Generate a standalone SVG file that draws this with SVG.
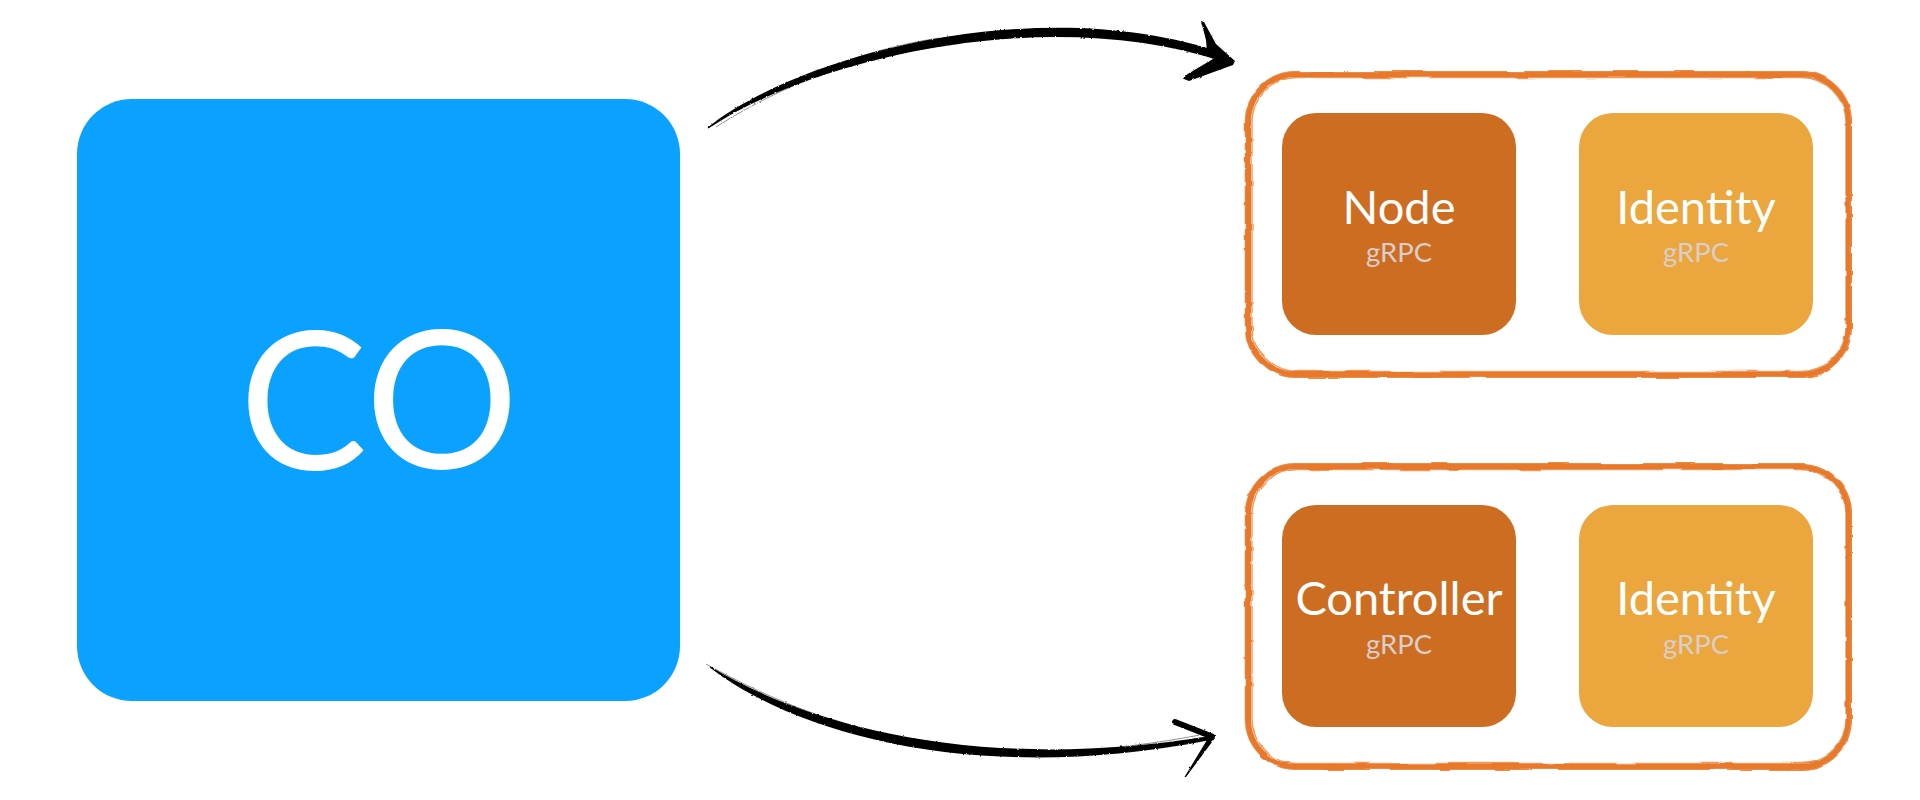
<svg xmlns="http://www.w3.org/2000/svg" width="1920" height="800" viewBox="0 0 1920 800">
  <style>
    .txt { font-family: Lato, "Open Sans", "DejaVu Sans", sans-serif; text-anchor: middle; }
    .big { fill: #ffffff; font-size: 192px; }
    .title { fill: #ffffff; font-size: 47px; }
    .sub { fill: #D8CFCA; font-size: 27.5px; }
    .dark { fill: #CD6D21; }
    .light { fill: #EBA63E; }
    .frame-main { fill: none; stroke: #E8782A; stroke-width: 6; }
    .frame-thin { fill: none; stroke: #E8782A; stroke-width: 1.4; opacity: 0.75; }
    .frame-hair { fill: none; stroke: #EE9A5C; stroke-width: 1; opacity: 0.6; }
    .ink { fill: #000000; }
    .hair { fill: none; stroke: #000000; stroke-width: 0.8; opacity: 0.55; }
  </style>
  <defs>
    <filter id="rough" x="-3%" y="-6%" width="106%" height="112%">
      <feTurbulence type="fractalNoise" baseFrequency="0.02 0.09" numOctaves="2" seed="4" result="n"/>
      <feDisplacementMap in="SourceGraphic" in2="n" scale="3.5" xChannelSelector="R" yChannelSelector="G"/>
    </filter>
    <filter id="brush" x="-5%" y="-20%" width="110%" height="140%">
      <feTurbulence type="fractalNoise" baseFrequency="0.35" numOctaves="2" seed="7" result="n"/>
      <feDisplacementMap in="SourceGraphic" in2="n" scale="2.2" xChannelSelector="R" yChannelSelector="G"/>
    </filter>
  </defs>

  <rect width="1920" height="800" fill="#ffffff"/>

  <g id="node-co">
    <rect x="77" y="99" width="603" height="602" rx="55" fill="#0BA2FF"/>
    <text class="txt big" x="379" y="469">CO</text>
  </g>

  <g id="group-top">
    <g filter="url(#rough)">
      <rect class="frame-main" x="1248" y="74" width="601" height="301" rx="48"/>
      <rect class="frame-thin" x="1252" y="77.5" width="594" height="294" rx="45"/>
      <rect class="frame-hair" x="1245" y="71.5" width="606" height="306" rx="50"/>
    </g>
    <g id="node-node">
      <rect class="dark" x="1282" y="113" width="234" height="222" rx="34"/>
      <text class="txt title" x="1399" y="224">Node</text>
      <text class="txt sub" x="1399" y="262">gRPC</text>
    </g>
    <g id="node-identity-1">
      <rect class="light" x="1579" y="113" width="234" height="222" rx="34"/>
      <text class="txt title" x="1696" y="224">Identity</text>
      <text class="txt sub" x="1696" y="262">gRPC</text>
    </g>
  </g>

  <g id="group-bottom">
    <g filter="url(#rough)">
      <rect class="frame-main" x="1248" y="466" width="601" height="301" rx="48"/>
      <rect class="frame-thin" x="1252" y="469.5" width="594" height="294" rx="45"/>
      <rect class="frame-hair" x="1245" y="463.5" width="606" height="306" rx="50"/>
    </g>
    <g id="node-controller">
      <rect class="dark" x="1282" y="505" width="234" height="222" rx="34"/>
      <text class="txt title" x="1399" y="615">Controller</text>
      <text class="txt sub" x="1399" y="654">gRPC</text>
    </g>
    <g id="node-identity-2">
      <rect class="light" x="1579" y="505" width="234" height="222" rx="34"/>
      <text class="txt title" x="1696" y="615">Identity</text>
      <text class="txt sub" x="1696" y="654">gRPC</text>
    </g>
  </g>

  <g id="connectors" filter="url(#brush)">
    <path class="ink" d="M707.6,127.5 C796.7,55.6 1041.9,-10.7 1226.3,54.2 L1223.7,61.8 C1038.1,0.7 803.3,64.4 708.4,128.5 Z"/>
    <path class="hair" d="M712,126 C800,68 900,40 960,36"/>
    <path class="hair" d="M716,127 C790,80 860,58 930,48"/>
    <polygon class="ink" points="1201,21 1204,22 1216,44 1235,61 1233,65 1189,81 1184,79 1186,75 1213,59 1207,53 1206,40"/>
    <path class="ink" d="M710.3,666.5 C813.9,729.2 989,772.6 1209.6,736 L1210.4,740 C991,783.4 806.1,740.8 709.7,667.5 Z"/>
    <path class="hair" d="M706,664 C780,705 840,725 900,738"/>
    <path class="hair" d="M1000,754 C1080,753 1150,745 1205,734"/>
    <line x1="1175" y1="722" x2="1212" y2="736.5" stroke="#000000" stroke-width="6" stroke-linecap="round"/>
    <polygon class="ink" points="1210,735 1215,738 1186,777 1184.5,777"/>
  </g>
</svg>
